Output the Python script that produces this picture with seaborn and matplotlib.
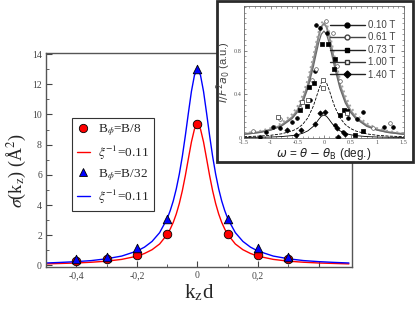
import matplotlib
matplotlib.use('Agg')
import matplotlib.pyplot as plt
import seaborn as sns
from matplotlib.lines import Line2D
from matplotlib.patches import Rectangle

# main panel: measured points (k_z d, sigma)
kz_pts = [-0.4, -0.3, -0.2, -0.1, 0.0, 0.1, 0.2, 0.3]
sig_b8 = [0.3, 0.4, 0.7, 2.05, 9.35, 2.05, 0.7, 0.4]
sig_b32 = [0.4, 0.55, 1.15, 3.1, 13.0, 3.1, 1.15, 0.55]

# main panel: fitted curves
kz_fit = [-0.5, -0.45, -0.4, -0.35, -0.3, -0.25, -0.2, -0.175, -0.15, -0.125, -0.1,
          -0.09, -0.08, -0.07, -0.06, -0.05, -0.04, -0.03, -0.02, -0.01, 0.0,
          0.01, 0.02, 0.03, 0.04, 0.05, 0.06, 0.07, 0.08, 0.09, 0.1,
          0.125, 0.15, 0.175, 0.2, 0.25, 0.3, 0.35, 0.4, 0.45, 0.5]
fit_b8 = [0.10, 0.13, 0.16, 0.21, 0.28, 0.40, 0.61, 0.79, 1.04, 1.42, 2.05,
          2.41, 2.85, 3.41, 4.10, 4.95, 5.96, 7.08, 8.18, 9.03, 9.35,
          9.03, 8.18, 7.08, 5.96, 4.95, 4.10, 3.41, 2.85, 2.41, 2.05,
          1.42, 1.04, 0.79, 0.61, 0.40, 0.28, 0.21, 0.16, 0.13, 0.10]
fit_b32 = [0.16, 0.20, 0.25, 0.32, 0.44, 0.62, 0.95, 1.21, 1.59, 2.17, 3.10,
           3.63, 4.27, 5.07, 6.05, 7.23, 8.61, 10.10, 11.53, 12.60, 13.0,
           12.60, 11.53, 10.10, 8.61, 7.23, 6.05, 5.07, 4.27, 3.63, 3.10,
           2.17, 1.59, 1.21, 0.95, 0.62, 0.44, 0.32, 0.25, 0.20, 0.16]

# inset: rocking curves
fields = ['0.10 T', '0.61 T', '0.73 T', '1.00 T', '1.40 T']
om_fit = [-1.5, -1.2, -1.0, -0.8, -0.6, -0.5, -0.4, -0.3, -0.2, -0.15, -0.1, -0.05, 0.0,
          0.05, 0.1, 0.15, 0.2, 0.3, 0.4, 0.5, 0.6, 0.8, 1.0, 1.2, 1.5]
fit_010 = [0.035, 0.054, 0.076, 0.115, 0.188, 0.251, 0.345, 0.489, 0.695, 0.816, 0.931, 1.018, 1.05,
           1.018, 0.931, 0.816, 0.695, 0.489, 0.345, 0.251, 0.188, 0.115, 0.076, 0.054, 0.035]
fit_061 = [0.042, 0.064, 0.089, 0.133, 0.216, 0.286, 0.389, 0.54, 0.748, 0.864, 0.972, 1.051, 1.08,
           1.051, 0.972, 0.864, 0.748, 0.54, 0.389, 0.286, 0.216, 0.133, 0.089, 0.064, 0.042]
fit_073 = [0.033, 0.050, 0.071, 0.107, 0.176, 0.234, 0.322, 0.456, 0.649, 0.761, 0.869, 0.950, 0.98,
           0.950, 0.869, 0.761, 0.649, 0.456, 0.322, 0.234, 0.176, 0.107, 0.071, 0.050, 0.033]
fit_100 = [0.011, 0.017, 0.024, 0.037, 0.063, 0.086, 0.123, 0.185, 0.290, 0.362, 0.439, 0.504, 0.53,
           0.504, 0.439, 0.362, 0.290, 0.185, 0.123, 0.086, 0.063, 0.037, 0.024, 0.017, 0.011]
fit_140 = [0.004, 0.006, 0.008, 0.012, 0.021, 0.029, 0.042, 0.065, 0.105, 0.134, 0.168, 0.198, 0.21,
           0.198, 0.168, 0.134, 0.105, 0.065, 0.042, 0.029, 0.021, 0.012, 0.008, 0.006, 0.004]

om_010 = [-1.2, -1.08, -0.96, -0.83, -0.6, -0.51, -0.26, -0.17, -0.14, -0.08, 0.06, 0.21, 0.36, 0.45, 0.62, 0.74, 1.12, 1.3]
int_010 = [0.01, 0.05, 0.10, 0.09, 0.15, 0.18, 0.35, 0.61, 1.04, 1.01, 0.96, 0.12, 0.05, 0.18, 0.17, 0.24, 0.10, 0.10]
om_061 = [-1.34, -0.83, -0.45, -0.23, -0.14, 0.04, 0.17, 0.24, 0.30, 0.92, 1.25]
int_061 = [0.06, 0.17, 0.27, 0.53, 0.63, 1.07, 0.96, 0.66, 0.52, 0.09, 0.14]
om_073 = [-0.45, -0.32, -0.28, -0.19, -0.04, 0.08, 0.19, 0.21, 0.31, 0.38, 0.43, 0.58, 0.74]
int_073 = [0.26, 0.29, 0.47, 0.50, 0.86, 0.86, 0.63, 0.72, 0.21, 0.26, 0.25, 0.03, 0.06]
om_100 = [-0.87, -0.42, -0.30, -0.02, -0.02, 0.43]
int_100 = [0.19, 0.33, 0.35, 0.53, 0.46, 0.23]
om_140 = [-0.70, -0.52, -0.43, -0.16, -0.08, 0.02, 0.24, 0.27, 0.40]
int_140 = [0.07, 0.03, 0.07, 0.13, 0.23, 0.24, 0.09, 0.01, 0.04]

sns.set_style('ticks')
plt.rcParams['font.family'] = ['Liberation Serif', 'DejaVu Serif']
plt.rcParams['mathtext.fontset'] = 'stix'

fig = plt.figure(figsize=(4.15, 3.17), dpi=100)

# ---- main panel ----
ax = fig.add_axes([0.111, 0.158, 0.737, 0.676])
sns.lineplot(x=kz_fit, y=fit_b8, ax=ax, color='red', lw=1, sort=False)
sns.lineplot(x=kz_fit, y=fit_b32, ax=ax, color='blue', lw=1, sort=False)
sns.scatterplot(x=kz_pts, y=sig_b8, ax=ax, marker='o', s=38, color='red',
                edgecolor='black', linewidth=0.6, zorder=3)
sns.scatterplot(x=kz_pts, y=sig_b32, ax=ax, marker='^', s=38, color='blue',
                edgecolor='black', linewidth=0.6, zorder=4)

ax.set_xlim(-0.5, 0.51)
ax.set_ylim(-0.1, 14.1)
ax.set_xticks([-0.4, -0.2, 0, 0.2, 0.4])
ax.set_xticklabels(['-0,4', '-0,2', '0', '0,2', ''])
ax.set_xticks([-0.3, -0.1, 0.1, 0.3], minor=True)
ax.set_yticks(range(0, 15, 2))
ax.set_yticks(range(1, 15, 2), minor=True)
ax.tick_params(which='both', direction='in', labelsize=7, colors='#444', pad=3)
ax.tick_params(which='major', length=4)
ax.tick_params(which='minor', length=2)
for s in ax.spines.values():
    s.set_color('#555')
    s.set_linewidth(1)
ax.set_xlabel(r'k$_{\rm z}$d', fontsize=15, labelpad=2)
ax.set_ylabel(r'$\sigma$(k$_{\rm z}$) (Å$^{2}$)', fontsize=13)
ax.yaxis.set_label_coords(-0.06, 0.45)

handles = [
    Line2D([], [], ls='none', marker='o', ms=6, mfc='red', mec='black', mew=0.6),
    Line2D([], [], color='red', lw=1),
    Line2D([], [], ls='none', marker='^', ms=6, mfc='blue', mec='black', mew=0.6),
    Line2D([], [], color='blue', lw=1),
]
labels = [r'B$_\phi$=B/8', r'$\xi^{-1}$=0.11', r'B$_\phi$=B/32', r'$\xi^{-1}$=0.11']
leg = ax.legend(handles, labels, loc='upper left', bbox_to_anchor=(0.174, 0.628),
                bbox_transform=fig.transFigure, borderaxespad=0, fontsize=9.5,
                handlelength=1.0, handletextpad=0.6, labelspacing=0.4, borderpad=0.35,
                fancybox=False, edgecolor='#333', framealpha=1)
leg.get_frame().set_linewidth(0.8)

# ---- inset frame ----
fig.patches.append(Rectangle((0.522, 0.49), 0.474, 0.506, transform=fig.transFigure,
                             facecolor='white', edgecolor='#2a2a2a', lw=2, zorder=5))

ins = fig.add_axes([0.588, 0.565, 0.385, 0.416], zorder=6)
gray_styles = [('#8a8a8a', '-', 1.4), ('#a0a0a0', ':', 1.4), ('#6a6a6a', '-', 0.9),
               ('black', '--', 0.6), ('black', '-', 0.6)]
fits = [fit_010, fit_061, fit_073, fit_100, fit_140]
for yv, (c, ls, lw) in zip(fits, gray_styles):
    sns.lineplot(x=om_fit, y=yv, ax=ins, color=c, ls=ls, lw=lw, sort=False)

pts = [(om_010, int_010, 'o', 'black', 'black'),
       (om_061, int_061, 'o', 'white', '#555'),
       (om_073, int_073, 's', 'black', 'black'),
       (om_100, int_100, 's', 'white', '#333'),
       (om_140, int_140, 'D', 'black', 'black')]
for xo, yo, m, fc, ec in pts:
    sns.scatterplot(x=xo, y=yo, ax=ins, marker=m, s=7, color=fc, edgecolor=ec,
                    linewidth=0.5, zorder=3)

ins.set_xlim(-1.5, 1.5)
ins.set_ylim(0, 1.21)
ins.set_xticks([-1.5, -1, -0.5, 0, 0.5, 1, 1.5])
ins.set_xticklabels(['-1.5', '-1', '-0.5', '0', '0.5', '1', '1.5'])
ins.set_xticks([x / 10 for x in range(-15, 16)], minor=True)
ins.set_yticks([0, 0.4, 0.8])
ins.set_yticklabels(['0', '0.4', '0.8'])
ins.set_yticks([x / 20 for x in range(0, 25)], minor=True)
ins.tick_params(which='both', direction='in', top=True, right=True,
                labelsize=4.5, colors='#555', pad=1.5)
ins.tick_params(which='major', length=2.5, width=0.5)
ins.tick_params(which='minor', length=1.3, width=0.4)
for s in ins.spines.values():
    s.set_color('#666')
    s.set_linewidth(0.6)
ins.set_xlabel(r'$\omega$ = $\theta$ $-$ $\theta_{\rm B}$ (deg.)', fontsize=8.5,
               family=['Liberation Sans', 'DejaVu Sans'], math_fontfamily='dejavusans',
               labelpad=0.5, color='#222')
ins.set_ylabel(r'$I/F^{2}a_{0}$ (a.u.)', fontsize=8,
               family=['Liberation Sans', 'DejaVu Sans'], math_fontfamily='dejavusans',
               labelpad=1, color='#444')

ins_handles = [
    Line2D([], [], color='#222', lw=1, marker='o', ms=3.5, mfc='black', mec='black'),
    Line2D([], [], color='#444', lw=1, marker='o', ms=3.5, mfc='white', mec='#444'),
    Line2D([], [], color='#222', lw=1, marker='s', ms=3.5, mfc='black', mec='black'),
    Line2D([], [], color='#333', lw=1, marker='s', ms=3.5, mfc='white', mec='#333'),
    Line2D([], [], color='#222', lw=1, marker='D', ms=3.5, mfc='black', mec='black'),
]
ileg = ins.legend(ins_handles, fields, loc='upper right', bbox_to_anchor=(1.0, 0.96),
                  frameon=False, handlelength=3.6, handletextpad=0.3, labelspacing=0.25,
                  prop={'family': ['Liberation Sans', 'DejaVu Sans'], 'size': 7})
for t in ileg.get_texts():
    t.set_color('#444')

fig.savefig('out.png', dpi=100)
